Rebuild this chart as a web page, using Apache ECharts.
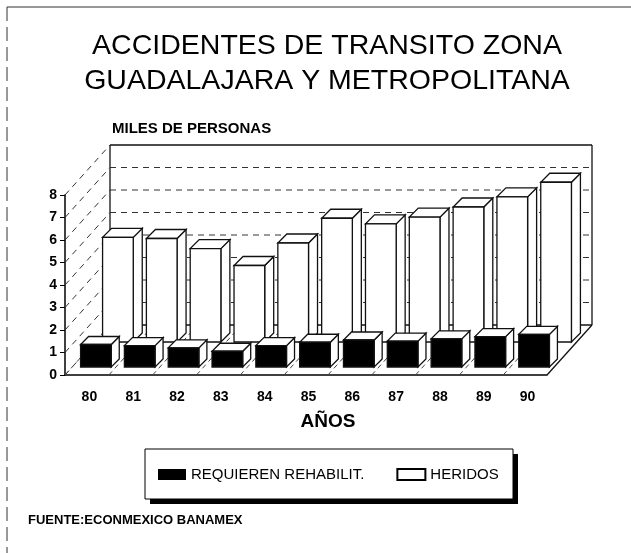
<!DOCTYPE html>
<html>
<head>
<meta charset="utf-8">
<script src="https://cdn.jsdelivr.net/npm/echarts@6/dist/echarts.min.js"></script>
<style>
  html, body { margin: 0; padding: 0; background: #fff; }
  #main { width: 631px; height: 553px; }
</style>
</head>
<body>
<div id="main"></div>
<script>
// datos (miles de personas)
var years = ['80', '81', '82', '83', '84', '85', '86', '87', '88', '89', '90'];
var rehabilit = [1.0, 0.95, 0.85, 0.7, 0.95, 1.1, 1.2, 1.15, 1.25, 1.35, 1.45];
var heridos = [4.65, 4.6, 4.15, 3.4, 4.4, 5.5, 5.25, 5.55, 6.0, 6.45, 7.1];
var yTicks = [0, 1, 2, 3, 4, 5, 6, 7, 8];

var FONT = '"Liberation Sans", Arial, sans-serif';
// profundidad del cubo (pared de fondo)
var DEPTH_X = 45, DEPTH_Y = -50;

// barra en perspectiva: cara frontal, tapa y lado derecho
function bar3d(offX, offY, depX, depY, frontColor, faceColor) {
  return function (params, api) {
    var i = api.value(0);
    var v = api.value(1);
    var base = api.coord([i, 0]);
    var top = api.coord([i, v]);
    var w = api.size([1, 0])[0] * 0.7;
    var x0 = base[0] - w / 2 + offX;
    var x1 = x0 + w;
    var yb = base[1] + offY;
    var yt = top[1] + offY;
    var stroke = { stroke: '#111', lineWidth: 1.3 };
    return {
      type: 'group',
      children: [
        {
          type: 'polygon',
          shape: { points: [[x1, yt], [x1 + depX, yt + depY], [x1 + depX, yb + depY], [x1, yb]] },
          style: Object.assign({ fill: faceColor }, stroke)
        },
        {
          type: 'polygon',
          shape: { points: [[x0, yt], [x1, yt], [x1 + depX, yt + depY], [x0 + depX, yt + depY]] },
          style: Object.assign({ fill: faceColor }, stroke)
        },
        {
          type: 'rect',
          shape: { x: x0, y: yt, width: w, height: yb - yt },
          style: Object.assign({ fill: frontColor }, stroke)
        }
      ]
    };
  };
}

// paredes: diagonales en la pared izquierda y lineas en el fondo
function renderWall(params, api) {
  var cs = params.coordSys;
  var v = api.value(1);
  var y = api.coord([0, v])[1];
  var left = cs.x, right = cs.x + cs.width;
  var last = v === yTicks[yTicks.length - 1];
  var dash = { stroke: '#333', lineWidth: 1, lineDash: [6, 5] };
  var children = [
    { type: 'line', shape: { x1: left, y1: y, x2: left + DEPTH_X, y2: y + DEPTH_Y }, style: dash },
    {
      type: 'line',
      shape: { x1: left + DEPTH_X, y1: y + DEPTH_Y, x2: right + DEPTH_X, y2: y + DEPTH_Y },
      style: last || v === 0 ? { stroke: '#111', lineWidth: 1.3 } : dash
    }
  ];
  if (v === 0) {
    var yTop = api.coord([0, yTicks[yTicks.length - 1]])[1];
    children.push(
      { type: 'line', shape: { x1: left + DEPTH_X, y1: y + DEPTH_Y, x2: left + DEPTH_X, y2: yTop + DEPTH_Y }, style: { stroke: '#111', lineWidth: 1.3 } },
      { type: 'line', shape: { x1: right + DEPTH_X, y1: y + DEPTH_Y, x2: right + DEPTH_X, y2: yTop + DEPTH_Y }, style: { stroke: '#111', lineWidth: 1.3 } },
      { type: 'line', shape: { x1: right, y1: y, x2: right + DEPTH_X, y2: y + DEPTH_Y }, style: { stroke: '#111', lineWidth: 1.3 } }
    );
  }
  return { type: 'group', children: children };
}

// piso: diagonales entre categorias
function renderFloor(params, api) {
  var i = api.value(0);
  var c = api.coord([i, 0]);
  var half = api.size([1, 0])[0] / 2;
  var x = c[0] - half;
  return {
    type: 'line',
    shape: { x1: x, y1: c[1], x2: x + DEPTH_X, y2: c[1] + DEPTH_Y },
    style: { stroke: '#444', lineWidth: 1, lineDash: [5, 4] }
  };
}

var chart = echarts.init(document.getElementById('main'));
chart.setOption({
  backgroundColor: '#fff',
  animation: false,
  grid: { left: 65, right: 84, top: 195, bottom: 178 },
  legend: {
    data: ['REQUIEREN REHABILIT.', 'HERIDOS'],
    icon: 'rect',
    left: 145,
    top: 449,
    z: 10,
    padding: [18, 15, 18, 13],
    itemGap: 32,
    itemWidth: 28,
    itemHeight: 11,
    textStyle: { fontFamily: FONT, fontSize: 15, color: '#000' }
  },
  xAxis: {
    type: 'category',
    data: years,
    axisLine: { lineStyle: { color: '#000', width: 1.5 } },
    axisTick: { alignWithLabel: true, length: 5, lineStyle: { color: '#000' } },
    axisLabel: { fontFamily: FONT, fontWeight: 'bold', fontSize: 14, color: '#000', margin: 15, padding: [0, 0, 0, 5] }
  },
  yAxis: {
    type: 'value',
    min: 0,
    max: 8,
    interval: 1,
    axisLine: { show: true, lineStyle: { color: '#000', width: 1.5 } },
    axisTick: { show: true, length: 5, lineStyle: { color: '#000' } },
    axisLabel: { fontFamily: FONT, fontWeight: 'bold', fontSize: 14, color: '#000', margin: 8 },
    splitLine: { show: false }
  },
  graphic: [
    { type: 'line', shape: { x1: 7, y1: 7, x2: 631, y2: 7 }, style: { stroke: '#333', lineWidth: 1 } },
    { type: 'line', shape: { x1: 7, y1: 7, x2: 7, y2: 553 }, style: { stroke: '#333', lineWidth: 1, lineDash: [14, 6] } },
    // caja de la leyenda con sombra
    { type: 'rect', z: 1, shape: { x: 150, y: 454, width: 368, height: 50 }, style: { fill: '#000' } },
    { type: 'rect', z: 1, shape: { x: 145, y: 449, width: 368, height: 50 }, style: { fill: '#fff', stroke: '#000', lineWidth: 1 } },
    {
      type: 'text', x: 327, y: 46,
      style: { text: 'ACCIDENTES DE TRANSITO ZONA', font: '28.5px ' + FONT, fill: '#000', textAlign: 'center', textVerticalAlign: 'middle' }
    },
    {
      type: 'text', x: 327, y: 81,
      style: { text: 'GUADALAJARA Y METROPOLITANA', font: '28.5px ' + FONT, fill: '#000', textAlign: 'center', textVerticalAlign: 'middle' }
    },
    {
      type: 'text', x: 112, y: 129,
      style: { text: 'MILES DE PERSONAS', font: 'bold 15px ' + FONT, fill: '#000', textVerticalAlign: 'middle' }
    },
    {
      type: 'text', x: 328, y: 422,
      style: { text: 'AÑOS', font: 'bold 19px ' + FONT, fill: '#000', textAlign: 'center', textVerticalAlign: 'middle' }
    },
    {
      type: 'text', x: 28, y: 520,
      style: { text: 'FUENTE:ECONMEXICO BANAMEX', font: 'bold 13px ' + FONT, fill: '#000', textVerticalAlign: 'middle' }
    }
  ],
  series: [
    {
      name: 'pared',
      type: 'custom',
      renderItem: renderWall,
      data: yTicks.map(function (v) { return [0, v]; }),
      silent: true
    },
    {
      name: 'piso',
      type: 'custom',
      renderItem: renderFloor,
      data: years.map(function (y, i) { return [i, 0]; }),
      silent: true
    },
    {
      name: 'HERIDOS',
      type: 'custom',
      renderItem: bar3d(31, -33, 9, -9, '#fff', '#fff'),
      itemStyle: { color: '#fff', borderColor: '#000', borderWidth: 1 },
      data: heridos.map(function (v, i) { return [i, v]; })
    },
    {
      name: 'REQUIEREN REHABILIT.',
      type: 'custom',
      renderItem: bar3d(9, -8, 8, -8, '#000', '#fff'),
      itemStyle: { color: '#000' },
      data: rehabilit.map(function (v, i) { return [i, v]; })
    }
  ]
});
</script>
</body>
</html>
